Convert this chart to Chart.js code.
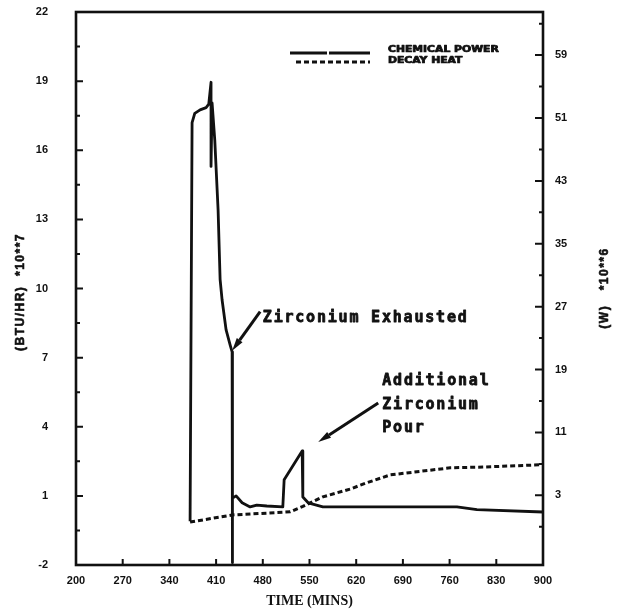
<!DOCTYPE html>
<html>
<head>
<meta charset="utf-8">
<script src="https://cdn.jsdelivr.net/npm/chart.js@4.4.0/dist/chart.umd.min.js"></script>
<style>
  html, body { margin: 0; padding: 0; background: #fff; }
  #wrap { width: 630px; height: 614px; }
</style>
</head>
<body>
<div id="wrap"><canvas id="heatChart"></canvas></div>
<script>
// chemical power, (BTU/HR) *10**7 on the left axis
const chemTime  = [371, 374, 378, 386, 395, 399, 402.4, 402.4, 404, 408, 413, 416, 419, 425, 431, 434, 434, 435, 440, 449, 461, 471, 486, 510, 512, 539, 540, 548, 570, 660, 771, 801, 900];
const chemPower = [-0.1, 17.2, 17.6, 17.75, 17.85, 18.0, 18.95, 15.3, 18.05, 16.45, 13.4, 10.4, 9.5, 8.2, 7.55, 7.25, -1.9, 0.9, 1.0, 0.7, 0.52, 0.6, 0.56, 0.52, 1.7, 2.95, 0.95, 0.7, 0.52, 0.52, 0.52, 0.4, 0.3];

// decay heat, (W) *10**6 on the right axis
const decayTime = [371, 434, 490, 521, 540, 570, 611, 636, 671, 711, 761, 810, 900];
const decayHeat = [-0.4, 0.5, 0.75, 0.9, 1.6, 2.8, 3.8, 4.6, 5.6, 6.0, 6.5, 6.6, 6.9];

const timeTicks  = [200, 270, 340, 410, 480, 550, 620, 690, 760, 830, 900];
const powerTicks = [-2, 1, 4, 7, 10, 13, 16, 19, 22];
const wattTicks  = [3, 11, 19, 27, 35, 43, 51, 59];

// 1 BTU/HR = 0.2931 W, so the right axis spans the left one times 2.931
const W_PER_BTU = 2.931;

const INK = '#111';
const TICK_FONT = { family: 'Liberation Sans', size: 11, weight: 'bold' };

const toPoints = (xs, ys) => xs.map((x, i) => ({ x: x, y: ys[i] }));

// side scales: fixed width, and keep the label gap out of the vertical padding
const fixSide = width => s => {
  s.width = width;
  s.paddingTop = 6;
  s.paddingBottom = 6;
};

// frame, inward ticks, side titles, legend and the two callouts
const scanFrame = {
  id: 'scanFrame',
  afterDraw(chart) {
    const { ctx, chartArea: a, scales } = chart;
    const sx = scales.x, yl = scales.y, yr = scales.y1;
    ctx.save();
    ctx.strokeStyle = INK;
    ctx.fillStyle = INK;
    ctx.lineCap = 'butt';

    ctx.lineWidth = 2.6;
    ctx.strokeRect(a.left, a.top, a.right - a.left, a.bottom - a.top);

    ctx.lineWidth = 2;
    ctx.beginPath();
    powerTicks.forEach((v, i) => {
      const py = yl.getPixelForValue(v);
      if (i > 0 && i < powerTicks.length - 1) { ctx.moveTo(a.left, py); ctx.lineTo(a.left + 7, py); }
      if (i < powerTicks.length - 1) {
        const pm = yl.getPixelForValue(v + 1.5);
        ctx.moveTo(a.left, pm); ctx.lineTo(a.left + 4, pm);
      }
    });
    wattTicks.forEach(v => {
      const py = yr.getPixelForValue(v);
      ctx.moveTo(a.right, py); ctx.lineTo(a.right - 8, py);
      [v - 4, v + 4].forEach(m => {
        const pm = yr.getPixelForValue(m);
        if (pm > a.top + 2 && pm < a.bottom - 2) { ctx.moveTo(a.right, pm); ctx.lineTo(a.right - 4, pm); }
      });
    });
    timeTicks.slice(1, -1).forEach(v => {
      const px = sx.getPixelForValue(v);
      ctx.moveTo(px, a.bottom); ctx.lineTo(px, a.bottom - 6);
    });
    ctx.stroke();

    // heavy text: fill plus a thin stroke of the same ink
    const heavy = (text, x, y, w) => {
      ctx.lineWidth = w;
      ctx.lineJoin = 'round';
      ctx.strokeText(text, x, y);
      ctx.fillText(text, x, y);
    };

    // rotated side titles, both reading upward
    const sideTitle = (text, cx, cy) => {
      ctx.save();
      ctx.translate(cx, cy);
      ctx.rotate(-Math.PI / 2);
      ctx.font = 'bold 12px "Liberation Sans"';
      ctx.letterSpacing = '1.5px';
      ctx.textAlign = 'center';
      ctx.textBaseline = 'middle';
      heavy(text, 0, 0, 0.6);
      ctx.restore();
    };
    sideTitle('(BTU/HR)  *10**7', 21, 292);
    sideTitle('(W)   *10**6', 605, 288);

    // legend
    const lx0 = a.right - 253, lx1 = a.right - 173, tx = a.right - 155;
    ctx.lineWidth = 2.8;
    ctx.beginPath();
    ctx.moveTo(lx0, 53); ctx.lineTo(lx0 + 37, 53);
    ctx.moveTo(lx0 + 39, 53); ctx.lineTo(lx1, 53);
    ctx.stroke();
    ctx.setLineDash([5, 3]);
    ctx.beginPath();
    ctx.moveTo(lx0 + 6, 62); ctx.lineTo(lx1, 62);
    ctx.stroke();
    ctx.setLineDash([]);
    const legendText = (text, y) => {
      ctx.save();
      ctx.translate(tx, y);
      ctx.scale(1.35, 1);
      ctx.font = 'bold 8px "DejaVu Sans"';
      ctx.textAlign = 'left';
      ctx.textBaseline = 'middle';
      heavy(text, 0, 0, 0.7);
      ctx.restore();
    };
    legendText('CHEMICAL POWER', 50);
    legendText('DECAY HEAT', 61);

    // callouts with arrows
    const arrow = (x0, y0, x1, y1) => {
      const ang = Math.atan2(y1 - y0, x1 - x0);
      const hl = 13, hw = 3.5;
      const bx = x1 - hl * Math.cos(ang), by = y1 - hl * Math.sin(ang);
      ctx.lineWidth = 3;
      ctx.beginPath();
      ctx.moveTo(x0, y0); ctx.lineTo(bx, by);
      ctx.stroke();
      ctx.beginPath();
      ctx.moveTo(x1, y1);
      ctx.lineTo(bx + hw * Math.sin(ang), by - hw * Math.cos(ang));
      ctx.lineTo(bx - hw * Math.sin(ang), by + hw * Math.cos(ang));
      ctx.closePath();
      ctx.fill();
    };
    const at = (t, p) => [sx.getPixelForValue(t), yl.getPixelForValue(p)];

    ctx.font = 'bold 15px "DejaVu Sans Mono"';
    ctx.letterSpacing = '1.8px';
    ctx.textAlign = 'left';
    ctx.textBaseline = 'middle';

    const [e0x, e0y] = at(476, 9.0), [e1x, e1y] = at(434, 7.3);
    arrow(e0x, e0y, e1x, e1y);
    const [etx, ety] = at(480, 8.72);
    heavy('Zirconium Exhausted', etx, ety, 0.8);

    const [p0x, p0y] = at(653, 5.03), [p1x, p1y] = at(563, 3.34);
    arrow(p0x, p0y, p1x, p1y);
    ['Additional', 'Zirconium', 'Pour'].forEach((line, i) => {
      const [lx, ly] = at(659, [6.0, 4.95, 3.95][i]);
      heavy(line, lx, ly, 0.8);
    });

    ctx.restore();
  }
};

new Chart(document.getElementById('heatChart'), {
  type: 'line',
  data: {
    datasets: [
      {
        label: 'CHEMICAL POWER',
        data: toPoints(chemTime, chemPower),
        yAxisID: 'y',
        borderColor: INK,
        borderWidth: 2.8,
        borderJoinStyle: 'round',
        pointRadius: 0,
        tension: 0,
        fill: false
      },
      {
        label: 'DECAY HEAT',
        data: toPoints(decayTime, decayHeat),
        yAxisID: 'y1',
        borderColor: INK,
        borderWidth: 3,
        borderDash: [5, 3],
        pointRadius: 0,
        tension: 0,
        fill: false
      }
    ]
  },
  options: {
    responsive: true,
    maintainAspectRatio: false,
    animation: false,
    devicePixelRatio: 1,
    layout: { padding: { top: 12, left: 0, right: 0, bottom: 0 } },
    plugins: {
      legend: { display: false },
      tooltip: { enabled: false }
    },
    scales: {
      x: {
        type: 'linear',
        min: 200,
        max: 900,
        afterBuildTicks: s => { s.ticks = timeTicks.map(v => ({ value: v })); },
        afterFit: s => { s.height = 49; },
        grid: { display: false, drawTicks: false },
        border: { display: false },
        ticks: { color: INK, font: TICK_FONT, padding: 9, maxRotation: 0, autoSkip: false },
        title: {
          display: true,
          text: 'TIME (MINS)',
          color: INK,
          font: { family: 'Liberation Serif', size: 14, weight: 'bold' },
          padding: { top: 0, bottom: 4 }
        }
      },
      y: {
        position: 'left',
        min: -2,
        max: 22,
        afterBuildTicks: s => { s.ticks = powerTicks.map(v => ({ value: v })); },
        afterFit: fixSide(76),
        grid: { display: false, drawTicks: false },
        border: { display: false },
        ticks: { color: INK, font: TICK_FONT, padding: 28 }
      },
      y1: {
        position: 'right',
        min: -2 * W_PER_BTU,
        max: 22 * W_PER_BTU,
        afterBuildTicks: s => { s.ticks = wattTicks.map(v => ({ value: v })); },
        afterFit: fixSide(87),
        grid: { display: false, drawTicks: false },
        border: { display: false },
        ticks: { color: INK, font: TICK_FONT, padding: 12 }
      }
    }
  },
  plugins: [scanFrame]
});
</script>
</body>
</html>
